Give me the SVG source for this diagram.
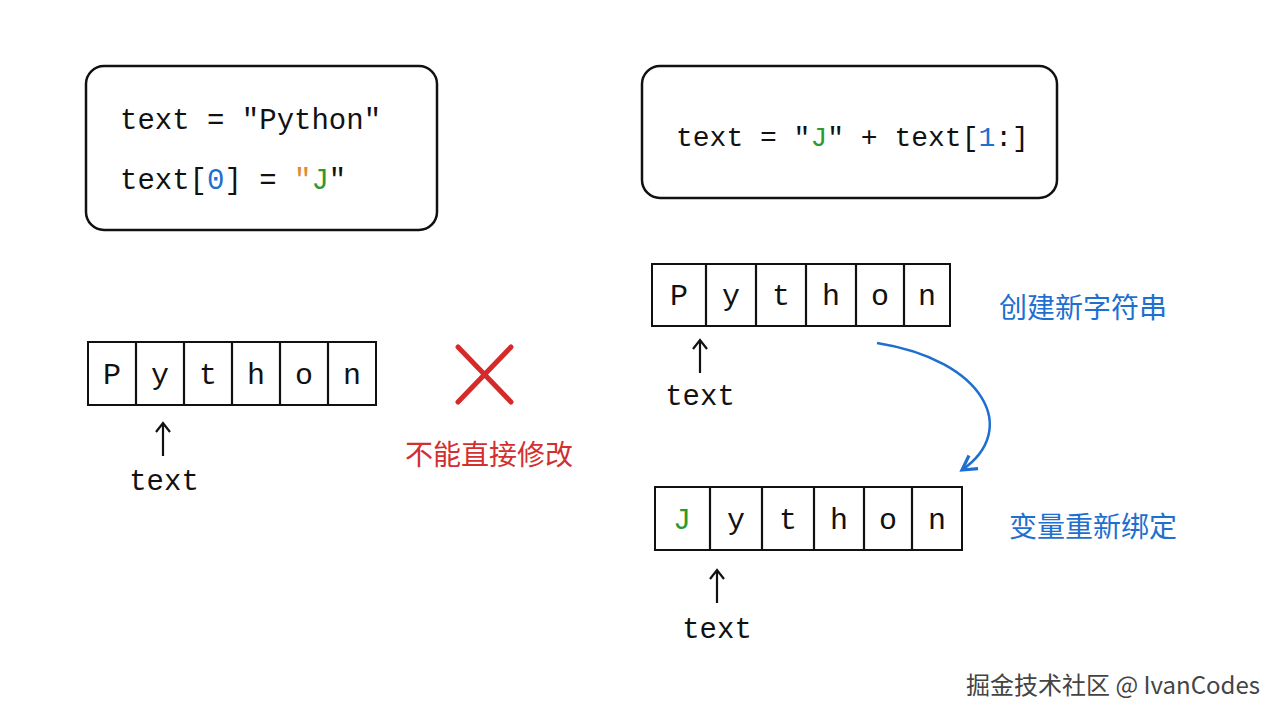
<svg xmlns="http://www.w3.org/2000/svg" width="1280" height="720" viewBox="0 0 1280 720">
<defs>
<style>
.box{fill:#fff;stroke:#111;stroke-width:2.5}
.cell{fill:#fff;stroke:#111;stroke-width:2}
.code{font-family:"Liberation Mono","DejaVu Sans Mono",monospace;font-size:29px;fill:#111}
.ch{font-family:"Liberation Mono","DejaVu Sans Mono",monospace;font-size:30px;fill:#111;text-anchor:middle}
.lbl{font-family:"Liberation Mono","DejaVu Sans Mono",monospace;font-size:29px;fill:#111;text-anchor:middle}
.cn{font-family:"Noto Sans CJK SC",sans-serif;font-size:28px;text-anchor:middle}
.ar{stroke:#111;stroke-width:2.2;fill:none}
.blue{fill:#1e6fd0}.green{fill:#2e9a2e}.orange{fill:#e08a2c}
</style>
<marker id="bh" viewBox="0 0 10 10" refX="8" refY="5" markerWidth="8" markerHeight="8" orient="auto"><path d="M1 1 L8 5 L1 9" fill="none" stroke="#1e6fd0" stroke-width="1.6"/></marker>
</defs>
<rect width="1280" height="720" fill="#fff"/>
<g id="code-left">
<rect class="box" x="86" y="66" width="351" height="164" rx="18"/>
<text class="code" x="120" y="129" xml:space="preserve">text = "Python"</text>
<text class="code" x="120" y="189" xml:space="preserve">text[<tspan class="blue">0</tspan>] = <tspan class="orange">"</tspan><tspan class="green">J</tspan>"</text>
</g>
<g id="code-right">
<rect class="box" x="642" y="66" width="415" height="132" rx="18"/>
<text class="code" x="676" y="146" style="font-size:28px" xml:space="preserve">text = "<tspan class="green">J</tspan>" + text[<tspan class="blue">1</tspan>:]</text>
</g>
<g id="array-left">
<rect class="cell" x="88" y="342" width="288" height="63"/>
<path class="ar" d="M136 342V405M184 342V405M232 342V405M280 342V405M328 342V405"/>
<text class="ch" x="112" y="384">P</text><text class="ch" x="160" y="384">y</text><text class="ch" x="208" y="384">t</text><text class="ch" x="256" y="384">h</text><text class="ch" x="304" y="384">o</text><text class="ch" x="352" y="384">n</text>
</g>
<g id="cross">
<path d="M458 347L511 402M511 347L458 402" stroke="#d52a2a" stroke-width="5" stroke-linecap="round"/>
<text class="cn" x="489" y="465" fill="#d32f2f">不能直接修改</text>
</g>
<g id="array-top">
<rect class="cell" x="652" y="264" width="298" height="62"/>
<path class="ar" d="M706 264V326M756 264V326M806 264V326M856 264V326M904 264V326"/>
<text class="ch" x="679" y="305">P</text><text class="ch" x="731" y="305">y</text><text class="ch" x="781" y="305">t</text><text class="ch" x="831" y="305">h</text><text class="ch" x="880" y="305">o</text><text class="ch" x="927" y="305">n</text>
<text class="cn blue" x="1083" y="318">创建新字符串</text>
</g>
<g id="array-bottom">
<rect class="cell" x="655" y="487" width="307" height="63"/>
<path class="ar" d="M710 487V550M762 487V550M814 487V550M864 487V550M912 487V550"/>
<text class="ch green" x="682" y="529">J</text><text class="ch" x="736" y="529">y</text><text class="ch" x="788" y="529">t</text><text class="ch" x="839" y="529">h</text><text class="ch" x="888" y="529">o</text><text class="ch" x="937" y="529">n</text>
<text class="cn blue" x="1093" y="537">变量重新绑定</text>
</g>
<g id="pointers">
<path class="ar" d="M163 456V424M156 432L163 423L170 432"/>
<text class="lbl" x="164" y="490">text</text>
<path class="ar" d="M700 373V341M693 349L700 340L707 349"/>
<text class="lbl" x="700" y="405">text</text>
<path class="ar" d="M717 603V571M710 579L717 570L724 579"/>
<text class="lbl" x="717" y="638">text</text>
</g>
<g id="connectors">
<path d="M877 343C985 360 1020 430 962 470" fill="none" stroke="#1e6fd0" stroke-width="2.5" marker-end="url(#bh)"/>
</g>
<text x="1260" y="694" text-anchor="end" font-family="Noto Sans CJK SC,sans-serif" font-size="24" fill="#444">掘金技术社区 @ IvanCodes</text>
</svg>
